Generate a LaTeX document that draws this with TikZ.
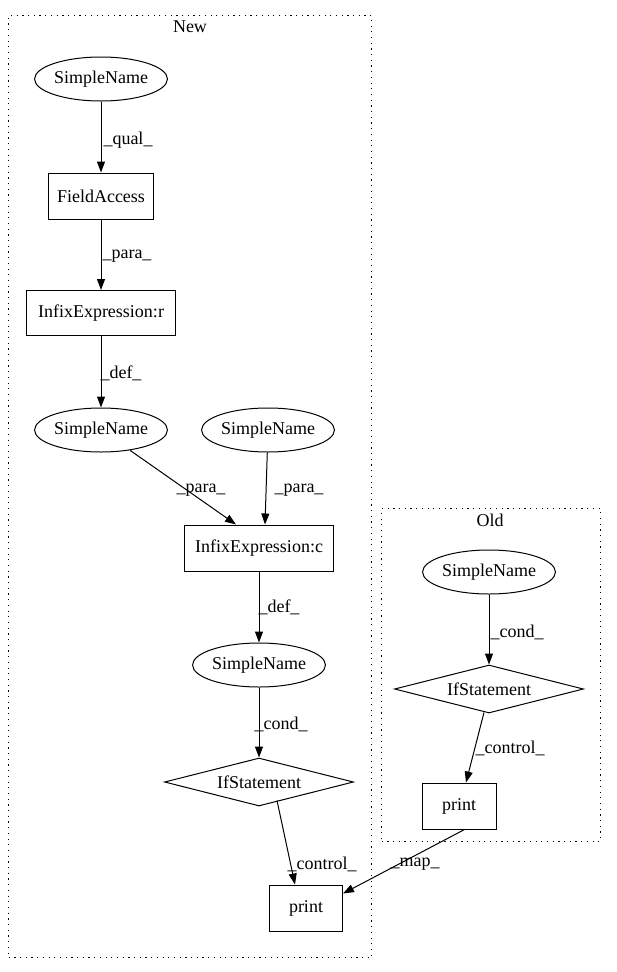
\documentclass[tikz,border=0pt]{standalone}
\usepackage{fontspec}
\setmainfont{Liberation Serif}
\usetikzlibrary{shapes.geometric,arrows.meta,calc}
\begin{document}
\begin{tikzpicture}[x=1pt,y=-1pt,
  every node/.style={font=\fontsize{18}{20}\selectfont, inner sep=0pt},
  ell/.style={draw, line width=1pt, ellipse, minimum width=101pt, minimum height=44pt},
  box/.style={draw, line width=1pt, rectangle, minimum height=46pt},
  dia/.style={draw, line width=1pt, diamond, aspect=3.9, minimum width=189pt, minimum height=48pt},
  cluster/.style={draw, line width=1.2pt, dash pattern=on 1.2pt off 4.5pt},
  edge/.style={draw, line width=1pt, -{Triangle[length=11pt,width=8pt]}},
  lbl/.style={anchor=center}]
\useasboundingbox (0,0) rectangle (616,972);
% clusters
\node[cluster, minimum width=363pt, minimum height=942pt, anchor=north west] (cnew) at (8,15) {};
\node (tnew) at (190,27) {New};
\node[cluster, minimum width=219pt, minimum height=333pt, anchor=north west] (cold) at (381,508) {};
\node (told) at (490,520) {Old};
% New nodes
\node[ell] (sn1) at (101,79) {SimpleName};
\node[box, minimum width=105pt] (fa) at (101,196) {FieldAccess};
\node[box, minimum width=149pt, minimum height=45pt] (ir) at (101,313) {InfixExpression:r};
\node[ell] (sn2) at (101,430) {SimpleName};
\node[ell] (sn3) at (268,430) {SimpleName};
\node[box, minimum width=149pt] (ic) at (259,548) {InfixExpression:c};
\node[ell] (sn4) at (259,665) {SimpleName};
\node[dia] (if1) at (259,782) {IfStatement};
\node[box, minimum width=73pt] (pr1) at (306,908) {print};
% Old nodes
\node[ell] (sn5) at (489,572) {SimpleName};
\node[dia] (if2) at (489,689) {IfStatement};
\node[box, minimum width=74pt] (pr2) at (459,806) {print};
% edges
\path[edge] (sn1) -- (fa);
\path[edge] (fa) -- (ir);
\path[edge] (ir) -- (sn2);
\path[edge] (sn2) -- ([xshift=-23pt]ic.north);
\path[edge] (sn3) -- ([xshift=6pt]ic.north);
\path[edge] (ic) -- (sn4);
\path[edge] (sn4) -- (if1);
\path[edge] ([xshift=18pt,yshift=6pt]if1.south) -- ([xshift=-11pt]pr1.north);
\path[edge] (sn5) -- (if2);
\path[edge] ([xshift=-5pt,yshift=1pt]if2.south) -- ([xshift=7pt]pr2.north);
\path[edge] ([xshift=-32pt]pr2.south east) -- ([yshift=-9pt]pr1.north east);
% labels
\node[lbl] (l1) at (128,140) {\_qual\_};
\node[lbl] (l2) at (127,256) {\_para\_};
\node[lbl] (l3) at (121,373) {\_def\_};
\node[lbl] (l4) at (201,490) {\_para\_};
\node[lbl] (l5) at (299,490) {\_para\_};
\node[lbl] (l6) at (279,607) {\_def\_};
\node[lbl] (l7) at (281,724) {\_cond\_};
\node[lbl] (l8) at (322,864) {\_control\_};
\node[lbl] (l9) at (517,632) {\_cond\_};
\node[lbl] (l10) at (510,748) {\_control\_};
\node[lbl] (l11) at (415,864) {\_map\_};
\end{tikzpicture}
\end{document}
